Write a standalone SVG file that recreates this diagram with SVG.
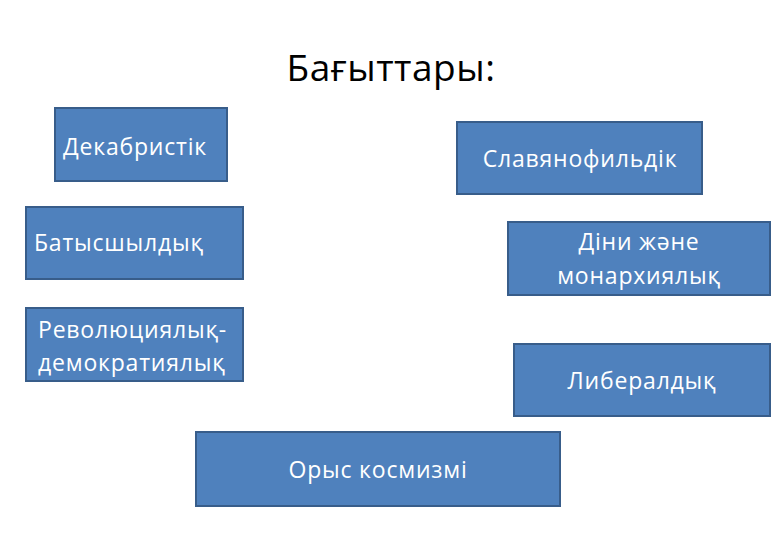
<svg xmlns="http://www.w3.org/2000/svg" width="780" height="540" viewBox="0 0 780 540">
<style>
.box{fill:#4F81BD;stroke:#385D8A;stroke-width:2}
.t{font-family:"Open Sans","Noto Sans",sans-serif;font-size:23px;letter-spacing:0.8px;fill:#FFFFFF}
.title{font-family:"Open Sans","Noto Sans",sans-serif;font-size:37px;letter-spacing:0.5px;fill:#000000}
</style>
<rect width="780" height="540" fill="#FFFFFF"/>
<text class="title" x="391" y="81" text-anchor="middle">Бағыттары:</text>
<g id="n1"><rect class="box" x="55" y="108" width="172" height="73"/><text class="t" x="63" y="155">Декабристік</text></g>
<g id="n2"><rect class="box" x="457" y="122" width="245" height="72"/><text class="t" x="580" y="167" text-anchor="middle">Славянофильдік</text></g>
<g id="n3"><rect class="box" x="26" y="207" width="217" height="72"/><text class="t" x="34" y="251">Батысшылдық</text></g>
<g id="n4"><rect class="box" x="26" y="308" width="217" height="73"/><text class="t" x="38" y="338">Революциялық-</text><text class="t" x="38" y="371">демократиялық</text></g>
<g id="n5"><rect class="box" x="508" y="222" width="262" height="73"/><text class="t" x="639" y="250" text-anchor="middle">Діни және</text><text class="t" x="639" y="284" text-anchor="middle">монархиялық</text></g>
<g id="n6"><rect class="box" x="514" y="344" width="256" height="72"/><text class="t" x="642" y="389" text-anchor="middle">Либералдық</text></g>
<g id="n7"><rect class="box" x="196" y="432" width="364" height="74"/><text class="t" x="378" y="478" text-anchor="middle">Орыс космизмі</text></g>
<g id="connectors"></g>
</svg>
